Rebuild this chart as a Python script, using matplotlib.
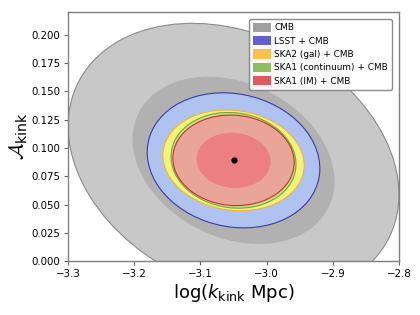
import numpy as np
import matplotlib
matplotlib.use("Agg")
import matplotlib.pyplot as plt
from matplotlib.patches import Ellipse, Patch

plt.rcParams["mathtext.fontset"] = "custom"
plt.rcParams["mathtext.rm"] = "DejaVu Sans"
plt.rcParams["mathtext.it"] = "DejaVu Sans:italic"
plt.rcParams["mathtext.bf"] = "DejaVu Sans:bold"
plt.rcParams["mathtext.cal"] = "cmsy10"

# Fiducial point
center_x = -3.05
center_y = 0.089

# 1-sigma marginal errors and correlations of each forecast
experiments = ["CMB", "LSST + CMB", "SKA2 (gal) + CMB", "SKA1 (continuum) + CMB", "SKA1 (IM) + CMB"]
sigma_logk = [0.1006, 0.0525, 0.0430, 0.0380, 0.0369]
sigma_A = [0.0487, 0.0240, 0.0179, 0.0170, 0.0161]
rho = [-0.25, -0.12, -0.10, -0.08, -0.05]

legend_colors = ["#a0a0a0", "#6262c4", "#fdc14f", "#8fbd5f", "#de5c5c"]
fill_2sig = ["#c8c8c8", "#aec3f0", "#f3f37a", "#c9e08a", "#e9a597"]
fill_1sig = ["#b1b1b1", "#7f9be0", "#f0d060", "#a8d070", "#ec8080"]
edge_cols = ["#8a8a8a", "#3a3aaa", "#f5b040", "#6aaa3a", "#c83030"]

dchi2 = [6.17, 2.30]

fig = plt.figure(figsize=(4.2, 3.15), dpi=100)
ax = fig.add_axes([0.162, 0.171, 0.788, 0.791])

def ellipse(sx, sy, r, d2, **kw):
    cov = np.array([[sx**2, r*sx*sy], [r*sx*sy, sy**2]])
    vals, vecs = np.linalg.eigh(cov)
    order = vals.argsort()[::-1]
    vals, vecs = vals[order], vecs[:, order]
    ang = np.degrees(np.arctan2(vecs[1, 0], vecs[0, 0]))
    w, h = 2*np.sqrt(d2*vals)
    return Ellipse((center_x, center_y), w, h, angle=ang, **kw)

for i in range(len(experiments)):
    ax.add_patch(ellipse(sigma_logk[i], sigma_A[i], rho[i], dchi2[0],
                         facecolor=fill_2sig[i], edgecolor=edge_cols[i],
                         linewidth=0.8, zorder=2+2*i))
    ax.add_patch(ellipse(sigma_logk[i], sigma_A[i], rho[i], dchi2[1],
                         facecolor=fill_1sig[i], edgecolor="none",
                         linewidth=0, zorder=3+2*i))

ax.plot([center_x], [center_y], "o", color="black", markersize=3.5, zorder=20)

ax.set_xlim(-3.3, -2.8)
ax.set_ylim(0.0, 0.22)
ax.set_xticks([-3.3, -3.2, -3.1, -3.0, -2.9, -2.8])
ax.set_yticks([0.0, 0.025, 0.05, 0.075, 0.1, 0.125, 0.15, 0.175, 0.2])
ax.set_xticklabels(["\u22123.3", "\u22123.2", "\u22123.1", "\u22123.0", "\u22122.9", "\u22122.8"])
ax.set_yticklabels(["0.000", "0.025", "0.050", "0.075", "0.100", "0.125", "0.150", "0.175", "0.200"])
ax.tick_params(labelsize=7.4, length=3, width=0.8, color="0.4", pad=2.5)
for s in ax.spines.values():
    s.set_color("0.5")
    s.set_linewidth(1.0)

ax.set_xlabel(r"$\log(k_{\rm kink}\ {\rm Mpc})$", fontsize=13, labelpad=2)
ax.set_ylabel(r"$\mathcal{A}_{\rm kink}$", fontsize=14.5, labelpad=1)

handles = [Patch(facecolor=c, edgecolor="none") for c in legend_colors]
leg = ax.legend(handles, experiments, loc="upper right", fontsize=6.4,
                frameon=True, fancybox=True, handlelength=2.0, handleheight=1.2,
                labelspacing=0.42, borderpad=0.45, handletextpad=0.4,
                bbox_to_anchor=(0.993, 0.99))
leg.get_frame().set_edgecolor("0.5")
leg.get_frame().set_alpha(0.9)
leg.set_zorder(30)

fig.savefig("out.png", dpi=100)
